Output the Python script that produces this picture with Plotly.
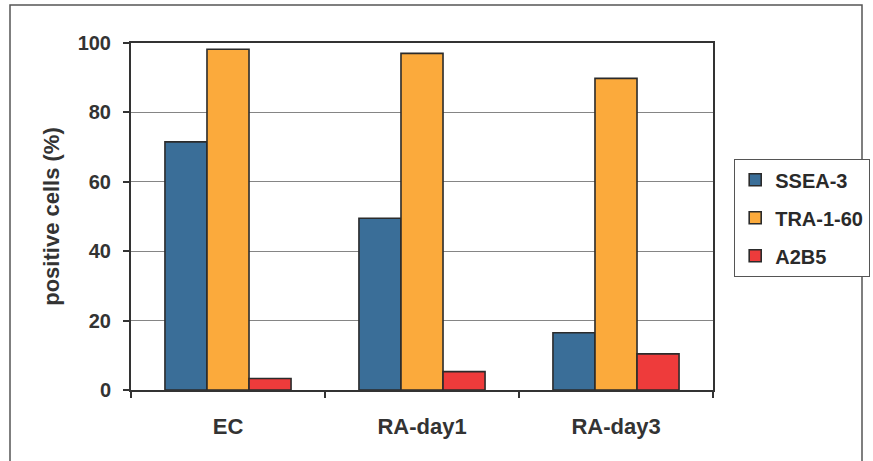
import plotly.graph_objects as go

categories = ["EC", "RA-day1", "RA-day3"]
ssea3 = [71.5, 49.5, 16.5]
tra160 = [98.2, 97.0, 89.8]
a2b5 = [3.3, 5.3, 10.4]
series_names = ["SSEA-3", "TRA-1-60", "A2B5"]
y_ticks = [0, 20, 40, 60, 80, 100]

colors = ["#3A6E98", "#FBAA3C", "#EE3B3B"]
font_fam = "Liberation Sans, Arial, sans-serif"
ink = "#333333"

fig = go.Figure()
for name, vals, c in zip(series_names, [ssea3, tra160, a2b5], colors):
    fig.add_trace(go.Bar(
        x=categories, y=vals, name=name, legendgroup=name,
        marker=dict(color=c, line=dict(color="#2b2b2b", width=1.6)),
    ))

W, H = 873, 461
L, R, T, B = 131, 160, 43, 71
pw = W - L - R
ph = H - T - B

fig.update_layout(
    width=W, height=H,
    margin=dict(l=L, r=R, t=T, b=B, autoexpand=False),
    paper_bgcolor="white", plot_bgcolor="white",
    barmode="group", bargap=0.35, bargroupgap=0,
    font=dict(family=font_fam, color=ink, size=15),
    legend=dict(
        x=(734 - L) / pw, y=(H - B - 159) / ph, xanchor="left", yanchor="top",
        bordercolor="#555555", borderwidth=1.2, bgcolor="white",
        font=dict(size=20, family=font_fam, color="#2a2a2a", weight="bold"),
        itemwidth=30, traceorder="grouped", tracegroupgap=9,
    ),
    xaxis=dict(
        tickson="boundaries", ticks="outside", ticklen=6, tickwidth=1.5,
        tickcolor=ink, showline=True, linecolor=ink, linewidth=2,
        mirror=True, tickfont=dict(size=22, weight="bold", color=ink),
        showgrid=False, ticklabelstandoff=16,
    ),
    yaxis=dict(
        range=[0, 100], tickvals=y_ticks, ticks="outside", ticklen=6,
        tickwidth=1.5, tickcolor=ink, showline=True, linecolor=ink,
        linewidth=2, mirror=True, showgrid=True, gridcolor="#858585",
        gridwidth=1.3, zeroline=False, ticklabelstandoff=8,
        tickfont=dict(size=20, weight="bold", color=ink),
        title=dict(text="positive cells (%)", standoff=12,
                   font=dict(size=22, weight="bold", color=ink)),
    ),
)

# outer frame of the figure panel
fig.add_shape(type="rect", xref="paper", yref="paper",
              x0=(10 - L) / pw, x1=(862 - L) / pw,
              y0=(H - B - 470) / ph, y1=(H - B - 5) / ph,
              line=dict(color="#555555", width=1.5), fillcolor="rgba(0,0,0,0)",
              layer="below")

fig.write_html("out.html", config={"displayModeBar": False},
               post_script="document.body.style.margin='0';")
